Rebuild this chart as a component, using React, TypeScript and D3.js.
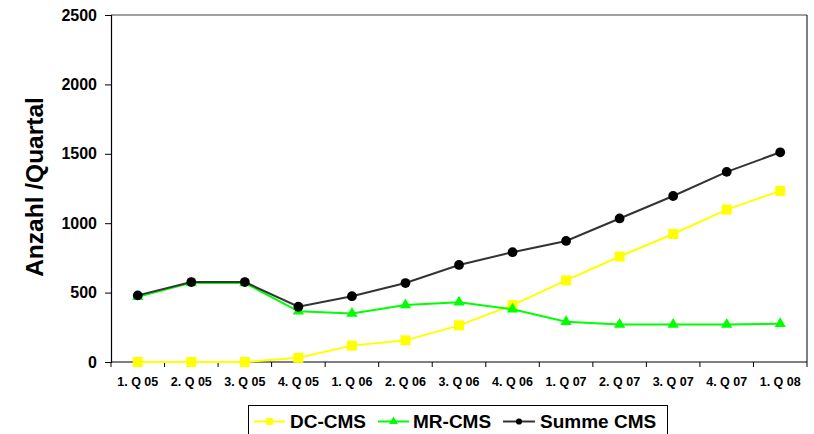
// @ts-nocheck
import React, { useRef, useEffect } from "react";
import * as d3 from "d3";

const quarters = [
  "1. Q 05", "2. Q 05", "3. Q 05", "4. Q 05",
  "1. Q 06", "2. Q 06", "3. Q 06", "4. Q 06",
  "1. Q 07", "2. Q 07", "3. Q 07", "4. Q 07", "1. Q 08",
];
const dcCms = [0, 0, 0, 30, 118, 156, 264, 410, 588, 760, 922, 1098, 1233];
const mrCms = [470, 570, 570, 365, 350, 410, 430, 380, 290, 271, 271, 271, 276];
const summeCms = [480, 576, 576, 398, 474, 569, 699, 791, 872, 1034, 1196, 1370, 1511];
const yTicks = [0, 500, 1000, 1500, 2000, 2500];

const FONT = "'Liberation Sans', Arial, sans-serif";

const Chart = () => {
  const svgRef = useRef(null);

  useEffect(() => {
    const width = 814, height = 434;
    const left = 111, right = 807, top = 15, bottom = 362;

    const svg = d3.select(svgRef.current);
    svg.selectAll("*").remove();
    svg.attr("width", width).attr("height", height).attr("viewBox", [0, 0, width, height]);

    const x = d3.scaleBand().domain(quarters).range([left, right]);
    const y = d3.scaleLinear().domain([0, 2500]).range([bottom, top]);
    const cx = (d) => x(d) + x.bandwidth() / 2;

    // plot frame (top and right)
    svg.append("line").attr("x1", left).attr("x2", right).attr("y1", top).attr("y2", top)
      .attr("stroke", "#808080").attr("stroke-width", 1.5);
    svg.append("line").attr("x1", right).attr("x2", right).attr("y1", top).attr("y2", bottom)
      .attr("stroke", "#000").attr("stroke-width", 1);

    // y axis
    const ya = svg.append("g")
      .attr("transform", `translate(${left},0)`)
      .call(d3.axisLeft(y).tickValues(yTicks).tickSize(6).tickPadding(8).tickFormat(d3.format("d")));
    ya.select(".domain").attr("stroke", "#000").attr("stroke-width", 1.2);
    ya.selectAll("text").attr("font-family", FONT).attr("font-weight", "bold")
      .attr("font-size", 16).attr("fill", "#000");

    // x axis
    const xa = svg.append("g").attr("transform", `translate(0,${bottom})`);
    xa.append("line").attr("x1", left).attr("x2", right).attr("stroke", "#000").attr("stroke-width", 1.2);
    const bounds = quarters.map((q) => x(q)).concat([right]);
    xa.selectAll("line.tk").data(bounds).join("line").attr("class", "tk")
      .attr("x1", (d) => d).attr("x2", (d) => d).attr("y1", 0).attr("y2", 5)
      .attr("stroke", "#000");
    xa.selectAll("text").data(quarters).join("text")
      .attr("x", cx).attr("y", 24).attr("text-anchor", "middle")
      .attr("font-family", FONT).attr("font-weight", "bold").attr("font-size", 12.5)
      .text((d) => d);

    // axis title
    svg.append("text")
      .attr("transform", `translate(43,${187}) rotate(-90)`)
      .attr("text-anchor", "middle")
      .attr("font-family", FONT).attr("font-weight", "bold").attr("font-size", 24.5)
      .text("Anzahl /Quartal");

    const series = [
      { name: "DC-CMS", values: dcCms, color: "#FFFF00", stroke: "#FFFF00", marker: d3.symbolSquare, size: 100, lsize: 45 },
      { name: "MR-CMS", values: mrCms, color: "#00FF00", stroke: "#00FF00", marker: d3.symbolTriangle, size: 55, lsize: 32 },
      { name: "Summe CMS", values: summeCms, color: "#000000", stroke: "#333333", marker: d3.symbolCircle, size: 75, lsize: 30 },
    ];

    const line = d3.line().x((d, i) => cx(quarters[i])).y((d) => y(d));

    series.forEach((s) => {
      svg.append("path").datum(s.values).attr("d", line)
        .attr("fill", "none").attr("stroke", s.stroke).attr("stroke-width", 2);
      svg.append("g").selectAll("path").data(s.values).join("path")
        .attr("transform", (d, i) => `translate(${cx(quarters[i])},${y(d)})`)
        .attr("d", d3.symbol().type(s.marker).size(s.size))
        .attr("fill", s.color);
    });

    // legend
    const lg = svg.append("g");
    lg.append("rect").attr("x", 248.5).attr("y", 405.5).attr("width", 419).attr("height", 40)
      .attr("fill", "#fff").attr("stroke", "#000");
    const legendPos = [
      { x0: 254, x1: 285, tx: 290 },
      { x0: 378, x1: 409, tx: 413 },
      { x0: 503, x1: 535, tx: 540 },
    ];
    series.forEach((s, i) => {
      const p = legendPos[i];
      const ly = 421.5;
      lg.append("line").attr("x1", p.x0).attr("x2", p.x1).attr("y1", ly).attr("y2", ly)
        .attr("stroke", s.stroke).attr("stroke-width", 2);
      lg.append("path").attr("transform", `translate(${(p.x0 + p.x1) / 2},${ly})`)
        .attr("d", d3.symbol().type(s.marker).size(s.lsize)).attr("fill", s.color);
      lg.append("text").attr("x", p.tx).attr("y", 428)
        .attr("font-family", FONT).attr("font-weight", "bold").attr("font-size", 19)
        .text(s.name);
    });
  }, []);

  return <svg ref={svgRef} style={{ display: "block" }}></svg>;
};

export default function App() {
  return (
    <div style={{ position: "absolute", left: 0, top: 0 }}>
      <Chart />
    </div>
  );
}
